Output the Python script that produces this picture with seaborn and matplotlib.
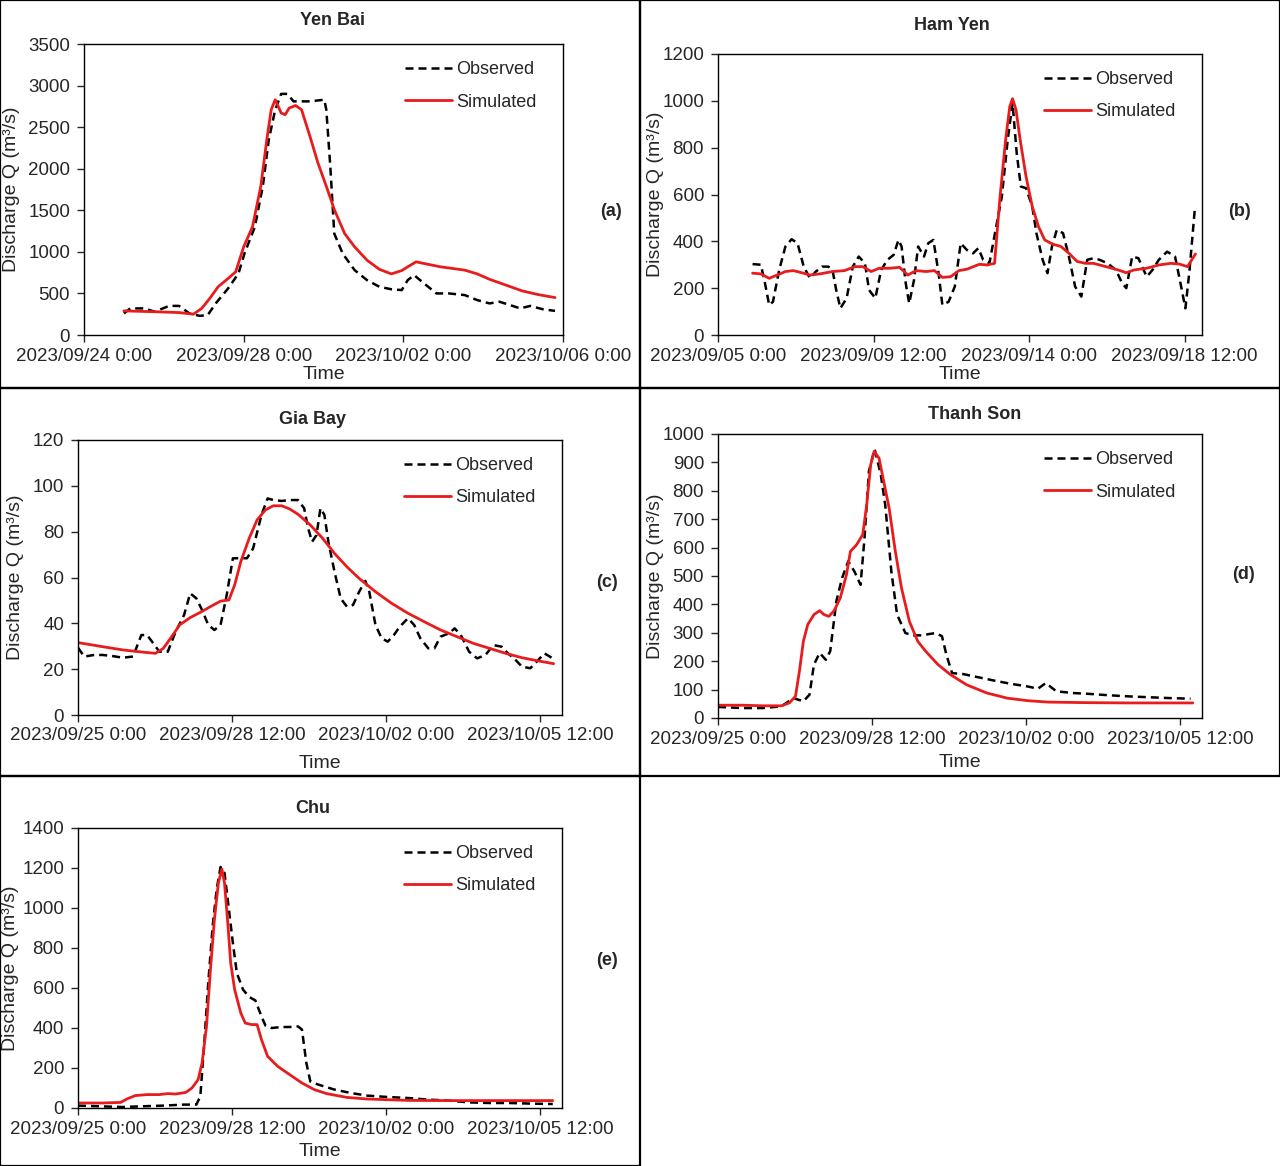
import pandas as pd
import numpy as np
import matplotlib
matplotlib.use("Agg")
import matplotlib.pyplot as plt
import matplotlib.dates as mdates
from matplotlib.patches import Rectangle
import seaborn as sns

sns.set_style("white")
plt.rcParams['font.family'] = ['Liberation Sans', 'DejaVu Sans']
plt.rcParams['font.size'] = 13

# ---- data: time given as days after each panel's axis start ----
# (a) Yen Bai, axis starts 2023/09/24 0:00
obs_a_day = [1.00, 1.16, 1.51, 1.77, 2.13, 2.38, 2.64, 2.90, 3.10, 3.30, 3.61, 3.87, 4.02, 4.28,
             4.48, 4.63, 4.79, 4.94, 5.09, 5.25, 5.66, 6.02, 6.07, 6.17, 6.27, 6.48, 6.78, 7.09,
             7.40, 7.70, 7.96, 8.11, 8.27, 8.52, 8.83, 9.14, 9.54, 9.85, 10.16, 10.41, 10.67,
             10.93, 11.18, 11.49, 11.80]
obs_a_q = [260, 320, 320, 280, 350, 350, 260, 230, 240, 380, 560, 740, 980, 1300,
           1790, 2350, 2710, 2900, 2900, 2810, 2810, 2830, 2710, 2030, 1220, 980, 780, 660,
           580, 550, 540, 660, 720, 620, 500, 500, 480, 420, 380, 400, 360,
           320, 350, 310, 290]
sim_a_day = [1.00, 1.77, 2.38, 2.74, 2.95, 3.15, 3.36, 3.61, 3.80, 4.00, 4.22, 4.43, 4.58, 4.69,
             4.79, 4.94, 5.04, 5.14, 5.30, 5.45, 5.66, 5.86, 6.07, 6.27, 6.53, 6.78, 7.09, 7.40,
             7.70, 7.96, 8.11, 8.32, 8.57, 8.93, 9.24, 9.54, 9.85, 10.16, 10.57, 10.98, 11.39,
             11.80]
sim_a_q = [290, 280, 270, 250, 320, 440, 580, 680, 760, 1060, 1300, 1790, 2350, 2710,
           2830, 2670, 2650, 2730, 2760, 2710, 2390, 2070, 1790, 1510, 1220, 1060, 900, 790,
           735, 775, 820, 880, 855, 820, 800, 780, 735, 670, 600, 530, 485,
           450]

# (b) Ham Yen, axis starts 2023/09/05 0:00
obs_b_day = [1.00, 1.24, 1.36, 1.48, 1.59, 1.77, 1.95, 2.13, 2.30, 2.48, 2.66, 2.83, 3.01, 3.19,
             3.31, 3.42, 3.54, 3.72, 3.90, 4.07, 4.25, 4.37, 4.55, 4.72, 4.90, 5.08, 5.22, 5.31,
             5.43, 5.53, 5.67, 5.79, 5.96, 6.08, 6.23, 6.38, 6.49, 6.67, 6.85, 7.02, 7.20, 7.38,
             7.53, 7.67, 7.85, 8.03, 8.21, 8.38, 8.52, 8.64, 8.76, 8.91, 9.09, 9.21, 9.39, 9.53,
             9.66, 9.80, 9.98, 10.15, 10.33, 10.51, 10.68, 10.86, 11.04, 11.27, 11.51, 11.69,
             11.81, 11.98, 12.16, 12.40, 12.57, 12.75, 12.99, 13.22, 13.34, 13.52, 13.64, 13.79]
obs_b_q = [303, 300, 220, 128, 142, 278, 378, 409, 392, 292, 242, 271, 292, 292,
           278, 192, 114, 157, 292, 335, 306, 192, 157, 278, 321, 342, 406, 378,
           221, 135, 235, 378, 335, 392, 406, 264, 128, 142, 207, 392, 363, 349,
           371, 321, 306, 449, 591, 834, 990, 777, 634, 627, 549, 435, 321, 264,
           378, 449, 435, 335, 207, 164, 321, 328, 321, 306, 278, 221,
           200, 335, 328, 249, 278, 321, 356, 335, 249, 114, 278, 534]
sim_b_day = [1.00, 1.24, 1.48, 1.71, 1.95, 2.18, 2.42, 2.66, 2.95, 3.31, 3.66, 3.96, 4.19, 4.43,
             4.66, 4.96, 5.25, 5.49, 5.73, 6.02, 6.26, 6.49, 6.73, 6.97, 7.20, 7.56, 7.79, 8.00,
             8.15, 8.32, 8.44, 8.52, 8.62, 8.74, 8.91, 9.09, 9.27, 9.45, 9.68, 9.92, 10.15,
             10.39, 10.63, 10.86, 11.22, 11.57, 11.81, 12.04, 12.40, 12.75, 13.10, 13.34, 13.58,
             13.81]
sim_b_q = [264, 261, 242, 256, 271, 275, 266, 256, 261, 271, 275, 292, 292, 271,
           285, 285, 289, 256, 275, 271, 275, 246, 249, 275, 281, 302, 299, 306,
           577, 834, 976, 1009, 962, 834, 677, 549, 463, 406, 388, 378, 349,
           314, 306, 306, 292, 278, 266, 278, 285, 299, 306, 303, 292,
           346]

# (c) Gia Bay, axis starts 2023/09/25 0:00
obs_c_day = [0.00, 0.14, 0.37, 0.56, 0.79, 1.02, 1.25, 1.44, 1.57, 1.71, 1.85, 2.04, 2.22, 2.41,
             2.55, 2.69, 2.82, 2.96, 3.10, 3.24, 3.38, 3.52, 3.70, 3.84, 3.98, 4.17, 4.31, 4.44,
             4.63, 4.81, 5.00, 5.14, 5.23, 5.32, 5.42, 5.51, 5.60, 5.69, 5.83, 5.97, 6.11, 6.25,
             6.39, 6.53, 6.62, 6.76, 6.90, 7.04, 7.18, 7.31, 7.50, 7.64, 7.78, 7.96, 8.10, 8.24,
             8.43, 8.56, 8.70, 8.89, 9.07, 9.26, 9.44, 9.63, 9.77, 9.91, 10.09, 10.28, 10.46,
             10.60, 10.79]
obs_c_q = [29.4, 25.5, 26.2, 26.2, 25.7, 25.0, 25.5, 34.9, 34.9, 31.3, 27.6, 27.6, 36.4, 43.6,
           53.1, 50.9, 45.8, 39.3, 37.1, 39.3, 52.4, 68.4, 68.4, 68.4, 72.7, 87.3, 94.5, 93.8,
           93.4, 93.8, 93.8, 90.2, 81.5, 75.6, 78.5, 90.2, 87.3, 75.6, 62.5, 50.9, 47.3, 48.0,
           53.8, 58.5, 53.8, 39.3, 33.5, 32.0, 34.9, 38.5, 42.2, 39.3, 33.5, 29.1, 29.1, 34.2,
           35.6, 37.8, 34.9, 27.6, 24.7, 26.2, 30.5, 29.8, 26.9, 24.7, 21.1, 20.4, 24.0,
           26.9, 24.7]
sim_c_day = [0.00, 0.56, 1.02, 1.39, 1.76, 1.94, 2.13, 2.31, 2.55, 2.78, 3.01, 3.24, 3.43, 3.56,
             3.70, 3.89, 4.07, 4.26, 4.44, 4.63, 4.81, 5.00, 5.28, 5.56, 5.83, 6.11, 6.39, 6.76,
             7.13, 7.50, 7.87, 8.24, 8.61, 8.98, 9.35, 9.72, 10.09, 10.46, 10.81]
sim_c_q = [31.6, 29.8, 28.4, 27.6, 26.9, 29.1, 34.2, 39.3, 42.5, 44.8, 47.3, 49.7, 50.2, 56.7,
           66.9, 77.1, 85.1, 89.5, 91.3, 91.3, 89.9, 87.6, 82.9, 77.1, 70.5, 64.7, 59.6, 53.8,
           48.7, 44.4, 40.7, 37.1, 34.2, 31.3, 29.1, 26.9, 25.0, 23.6, 22.4]

# (d) Thanh Son, axis starts 2023/09/25 0:00
obs_d_day = [0.00, 0.56, 1.02, 1.44, 1.71, 1.94, 2.08, 2.18, 2.31, 2.45, 2.55, 2.69, 2.82, 2.96,
             3.10, 3.24, 3.33, 3.43, 3.56, 3.70, 3.80, 3.94, 4.07, 4.26, 4.44, 4.63, 4.81, 4.95,
             5.09, 5.19, 5.32, 5.56, 5.93, 6.30, 6.67, 7.04, 7.27, 7.45, 7.69, 8.06, 8.43, 8.89,
             9.35, 9.81, 10.28, 10.74]
obs_d_q = [39, 35, 35, 41, 70, 59, 82, 188, 229, 205, 235, 411, 493, 552,
           516, 469, 634, 869, 947, 857, 751, 516, 364, 299, 291, 291, 296, 299,
           288, 223, 158, 155, 143, 131, 120, 111, 103, 123, 94, 88, 85, 80,
           76, 73, 70, 68]
sim_d_day = [0.00, 0.56, 1.02, 1.44, 1.62, 1.76, 1.85, 1.94, 2.04, 2.18, 2.31, 2.41, 2.52, 2.64,
             2.78, 2.92, 3.01, 3.15, 3.29, 3.38, 3.47, 3.55, 3.66, 3.75, 3.89, 4.03, 4.17, 4.35,
             4.54, 4.72, 5.00, 5.28, 5.65, 6.11, 6.57, 7.04, 7.50, 8.43, 9.35, 10.79]
sim_d_q = [45, 45, 43, 43, 53, 76, 164, 270, 329, 364, 378, 364, 358, 378,
           423, 505, 587, 610, 646, 751, 892, 939, 915, 845, 739, 587, 458, 340,
           270, 235, 188, 153, 117, 88, 70, 61, 56, 54, 53, 53]

# (e) Chu, axis starts 2023/09/25 0:00
obs_e_day = [0.00, 0.56, 1.02, 1.39, 1.94, 2.41, 2.69, 2.78, 2.87, 2.96, 3.06, 3.15, 3.24, 3.33,
             3.43, 3.52, 3.61, 3.75, 3.89, 4.03, 4.17, 4.26, 4.40, 4.63, 4.81, 5.00, 5.09, 5.19,
             5.28, 5.46, 5.83, 6.20, 6.57, 7.04, 7.50, 7.96, 8.43, 8.89, 9.35, 9.81, 10.28, 10.79]
obs_e_q = [12, 8, 5, 8, 12, 17, 17, 58, 325, 625, 908, 1092, 1205, 1175,
           992, 825, 675, 592, 555, 538, 458, 412, 400, 405, 405, 408, 392, 225,
           133, 117, 92, 75, 62, 55, 50, 42, 37, 28, 25, 25, 22, 20]
sim_e_day = [0.00, 0.56, 0.97, 1.11, 1.30, 1.57, 1.85, 2.04, 2.22, 2.45, 2.59, 2.73, 2.82, 2.92,
             3.01, 3.10, 3.19, 3.27, 3.33, 3.41, 3.47, 3.56, 3.70, 3.80, 3.94, 4.07, 4.17, 4.31,
             4.54, 4.81, 5.09, 5.37, 5.65, 6.11, 6.57, 7.50, 8.43, 9.35, 10.79]
sim_e_q = [25, 25, 28, 45, 62, 67, 67, 72, 70, 78, 100, 142, 225, 408,
           692, 942, 1125, 1195, 1125, 908, 725, 592, 475, 425, 417, 417, 342, 258,
           208, 167, 125, 92, 72, 53, 45, 38, 37, 37, 37]

RED = "#e81c1c"


def to_df(start, days, q):
    t = pd.Timestamp(start) + pd.to_timedelta(days, unit="D")
    return pd.DataFrame({"time": t, "Q": q})


def fmt_date(x, pos=None):
    d = mdates.num2date(x)
    return d.strftime("%Y/%m/%d ") + f"{d.hour}:{d.minute:02d}"


# panel specs: axes rect in pixels (left, top, right, bottom)
W, H = 1280, 1166
panels = [
    dict(name="Yen Bai", tag="(a)", start="2023-09-24", obs=(obs_a_day, obs_a_q), sim=(sim_a_day, sim_a_q),
         rect=(84, 44, 563, 335), ymax=3500, ystep=500, xspan=12, xstep=4,
         title_xy=(0.518, 1.082), tag_xy=(1.10, 0.426), xlab_y=-0.137, ylab_x=-0.152),
    dict(name="Ham Yen", tag="(b)", start="2023-09-05", obs=(obs_b_day, obs_b_q), sim=(sim_b_day, sim_b_q),
         rect=(718, 54, 1202, 335), ymax=1200, ystep=200, xspan=14, xstep=4.5,
         title_xy=(0.484, 1.10), tag_xy=(1.078, 0.441), xlab_y=-0.142, ylab_x=-0.13),
    dict(name="Gia Bay", tag="(c)", start="2023-09-25", obs=(obs_c_day, obs_c_q), sim=(sim_c_day, sim_c_q),
         rect=(78, 440, 562, 715), ymax=120, ystep=20, xspan=11, xstep=3.5,
         title_xy=(0.484, 1.073), tag_xy=(1.093, 0.483), xlab_y=-0.175, ylab_x=-0.13),
    dict(name="Thanh Son", tag="(d)", start="2023-09-25", obs=(obs_d_day, obs_d_q), sim=(sim_d_day, sim_d_q),
         rect=(718, 434, 1202, 718), ymax=1000, ystep=100, xspan=11, xstep=3.5,
         title_xy=(0.531, 1.07), tag_xy=(1.085, 0.505), xlab_y=-0.158, ylab_x=-0.13),
    dict(name="Chu", tag="(e)", start="2023-09-25", obs=(obs_e_day, obs_e_q), sim=(sim_e_day, sim_e_q),
         rect=(78, 828, 562, 1108), ymax=1400, ystep=200, xspan=11, xstep=3.5,
         title_xy=(0.484, 1.071), tag_xy=(1.093, 0.527), xlab_y=-0.155, ylab_x=-0.14),
]

fig = plt.figure(figsize=(12.8, 11.66), dpi=100)

# cell borders
for (x0, y0, w, h) in [(0, 0, 640, 388), (640, 0, 640, 388), (0, 388, 640, 388),
                       (640, 388, 640, 388), (0, 776, 640, 390)]:
    fig.patches.append(Rectangle((x0 / W, 1 - (y0 + h) / H), w / W, h / H, transform=fig.transFigure,
                                 fill=False, edgecolor="black", linewidth=1.6))

for p in panels:
    l, t, r, b = p["rect"]
    ax = fig.add_axes([l / W, 1 - b / H, (r - l) / W, (b - t) / H])
    obs = to_df(p["start"], *p["obs"])
    sim = to_df(p["start"], *p["sim"])
    sns.lineplot(data=obs, x="time", y="Q", ax=ax, color="black", linewidth=1.8, sort=False,
                 label="Observed", dashes=False)
    ax.lines[-1].set_dashes((3.2, 2.0))
    sns.lineplot(data=sim, x="time", y="Q", ax=ax, color=RED, linewidth=2.0, sort=False,
                 label="Simulated")

    t0 = pd.Timestamp(p["start"])
    ax.set_xlim(mdates.date2num(t0), mdates.date2num(t0 + pd.Timedelta(days=p["xspan"])))
    ticks = [mdates.date2num(t0 + pd.Timedelta(days=p["xstep"] * i)) for i in range(4)]
    ax.set_xticks(ticks)
    ax.xaxis.set_major_formatter(plt.FuncFormatter(fmt_date))
    ax.set_ylim(0, p["ymax"])
    ax.set_yticks(np.arange(0, p["ymax"] + 1, p["ystep"]))

    ax.tick_params(axis="both", direction="out", length=5, width=1, labelsize=13.5,
                   bottom=True, left=True)
    ax.tick_params(axis="y", pad=5)
    ax.tick_params(axis="x", pad=4)
    for s in ax.spines.values():
        s.set_color("black")
        s.set_linewidth(1.0)

    ax.set_xlabel("Time", fontsize=14)
    ax.xaxis.set_label_coords(0.5, p["xlab_y"])
    ax.xaxis.label.set_va("center")
    ax.set_ylabel("Discharge Q (m³/s)", fontsize=14)
    ax.yaxis.set_label_coords(p["ylab_x"], 0.5)
    ax.yaxis.label.set_va("center")

    ax.text(*p["title_xy"], p["name"], transform=ax.transAxes, ha="center", va="center",
            fontsize=13, fontweight="bold")
    ax.text(*p["tag_xy"], p["tag"], transform=ax.transAxes, ha="center", va="center",
            fontsize=13, fontweight="bold")

    ax.legend(loc="upper right", bbox_to_anchor=(0.96, 0.965), frameon=False, fontsize=13,
              handlelength=2.6, handletextpad=0.25, labelspacing=0.85, borderaxespad=0)

fig.savefig("out.png", dpi=100)
